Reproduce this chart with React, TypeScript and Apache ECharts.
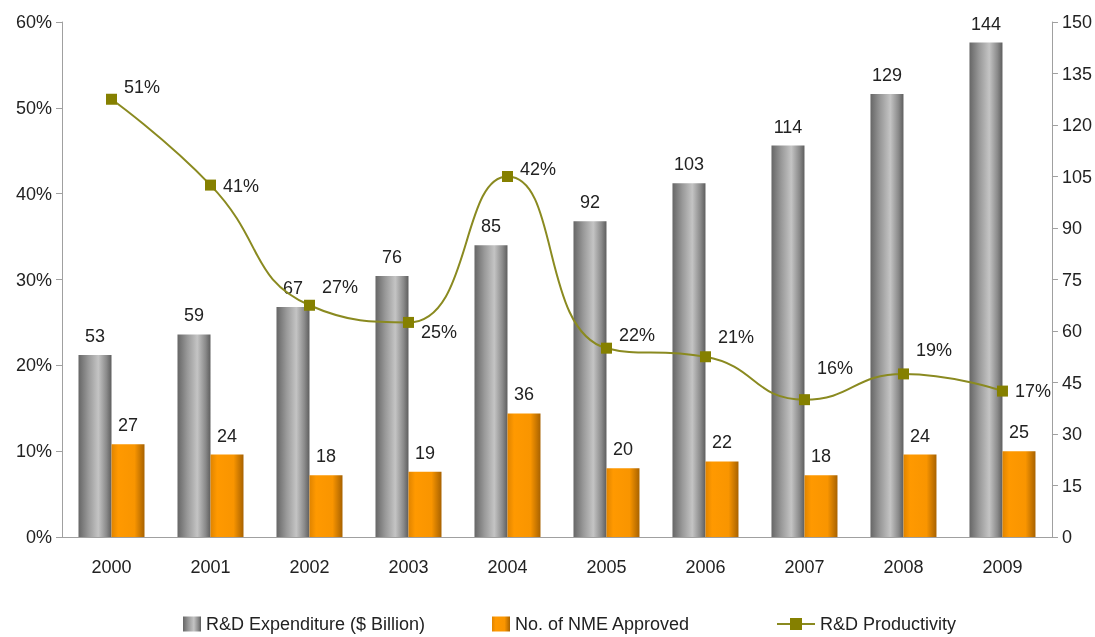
import React, { useEffect, useRef } from "react";
import * as echarts from "echarts";

const years = ["2000", "2001", "2002", "2003", "2004", "2005", "2006", "2007", "2008", "2009"];
const rdExpenditure = [53, 59, 67, 76, 85, 92, 103, 114, 129, 144];
const nmeApproved = [27, 24, 18, 19, 36, 20, 22, 18, 24, 25];
const productivity = [51, 41, 27, 25, 42, 22, 21, 16, 19, 17];
const leftTicks = { min: 0, max: 60, interval: 10 };
const rightTicks = { min: 0, max: 150, interval: 15 };

const FONT = "Liberation Sans, Arial, sans-serif";

export default function App() {
  const ref = useRef<HTMLDivElement>(null);
  useEffect(() => {
    if (!ref.current) return;
    const chart = echarts.init(ref.current, null, { renderer: "svg" });
    const greyGrad = new echarts.graphic.LinearGradient(0, 0, 1, 0, [
      { offset: 0, color: "#666666" },
      { offset: 0.3, color: "#999999" },
      { offset: 0.6, color: "#c4c4c4" },
      { offset: 0.85, color: "#8a8a8a" },
      { offset: 1, color: "#5e5e5e" },
    ]);
    const orangeGrad = new echarts.graphic.LinearGradient(0, 0, 1, 0, [
      { offset: 0, color: "#e08400" },
      { offset: 0.2, color: "#ff9900" },
      { offset: 0.7, color: "#f99500" },
      { offset: 1, color: "#a86200" },
    ]);
    const FS = 18;
    const labelStyle = { fontFamily: FONT, fontSize: FS, color: "#222" };
    // vertical nudges for the productivity labels (style only)
    const labelNudge = [-12, 1, -18, 10, -8, -13, -20, -32, -24, 0];
    const legendText = { fontFamily: FONT, fontSize: FS, color: "#222", lineHeight: 18 };
    const legendBase = { top: 615, padding: 0, itemHeight: 15, textStyle: legendText };
    chart.setOption({
      animation: false,
      textStyle: { fontFamily: FONT },
      grid: { left: 62, right: 43, top: 22, bottom: 100, containLabel: false },
      legend: [
        {
          ...legendBase,
          left: 183,
          itemWidth: 18,
          itemGap: 8,
          icon: "rect",
          data: ["R&D Expenditure ($ Billion)"],
        },
        {
          ...legendBase,
          left: 492,
          itemWidth: 18,
          icon: "rect",
          data: ["No. of NME Approved"],
        },
        {
          ...legendBase,
          left: 776,
          itemWidth: 38,
          data: [{ name: "R&D Productivity", itemStyle: { color: "#858000" } }],
        },
      ],
      xAxis: {
        type: "category",
        data: years,
        axisLine: { lineStyle: { color: "#a0a0a0" } },
        axisTick: { lineStyle: { color: "#a0a0a0" }, length: 6 },
        axisLabel: { fontFamily: FONT, fontSize: FS, color: "#222", margin: 21 },
      },
      yAxis: [
        {
          type: "value",
          min: leftTicks.min,
          max: leftTicks.max,
          interval: leftTicks.interval,
          splitLine: { show: false },
          axisLine: { show: true, lineStyle: { color: "#a0a0a0" } },
          axisTick: { show: true, lineStyle: { color: "#a0a0a0" }, length: 6 },
          axisLabel: { fontFamily: FONT, fontSize: FS, color: "#222", formatter: "{value}%", margin: 10 },
        },
        {
          type: "value",
          min: rightTicks.min,
          max: rightTicks.max,
          interval: rightTicks.interval,
          splitLine: { show: false },
          axisLine: { show: true, lineStyle: { color: "#a0a0a0" } },
          axisTick: { show: true, lineStyle: { color: "#a0a0a0" }, length: 6 },
          axisLabel: { fontFamily: FONT, fontSize: FS, color: "#222", margin: 10 },
        },
      ],
      series: [
        {
          name: "R&D Expenditure ($ Billion)",
          type: "bar",
          yAxisIndex: 1,
          data: rdExpenditure,
          barWidth: 33,
          barGap: "0%",
          itemStyle: { color: greyGrad },
          label: { show: true, position: "top", distance: 10, ...labelStyle },
        },
        {
          name: "No. of NME Approved",
          type: "bar",
          yAxisIndex: 1,
          data: nmeApproved,
          barWidth: 33,
          barGap: "0%",
          itemStyle: { color: orangeGrad },
          label: { show: true, position: "top", distance: 10, ...labelStyle },
        },
        {
          name: "R&D Productivity",
          type: "line",
          yAxisIndex: 0,
          data: productivity.map((v, i) => ({
            value: v,
            label: { offset: [0, labelNudge[i]] },
          })),
          smooth: 0.5,
          symbol: "rect",
          symbolSize: 11,
          lineStyle: { color: "#8a8a20", width: 2 },
          itemStyle: { color: "#858000" },
          label: {
            show: true,
            position: "right",
            distance: 7,
            formatter: "{c}%",
            ...labelStyle,
          },
          z: 5,
        },
      ],
    });
    return () => chart.dispose();
  }, []);
  return <div ref={ref} style={{ position: "fixed", left: 0, top: 0, width: 1095, height: 637 }} />;
}
